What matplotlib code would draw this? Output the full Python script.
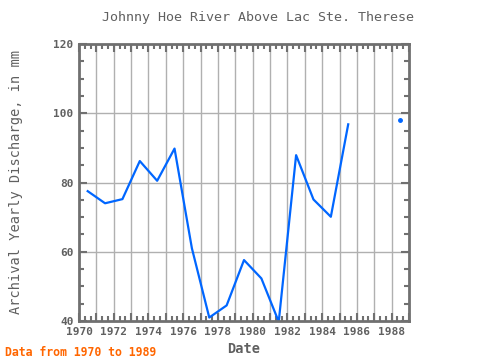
import numpy as np
import matplotlib
matplotlib.use("Agg")
import matplotlib.pyplot as plt
from matplotlib.ticker import MultipleLocator

years = [1970, 1971, 1972, 1973, 1974, 1975, 1976, 1977, 1978, 1979,
         1980, 1981, 1982, 1983, 1984, 1985, 1986, 1987, 1988]
discharge = [77.5, 74.0, 75.2, 86.2, 80.5, 89.8, 61.0, 41.0, 44.5, 57.6,
             52.3, 39.8, 87.9, 75.1, 70.1, 96.8, np.nan, np.nan, 98.0]
title = "Johnny Hoe River Above Lac Ste. Therese"
xlabel = "Date"
ylabel = "Archival Yearly Discharge, in mm"
note = "Data from 1970 to 1989"

x = np.array(years, dtype=float) + 0.5
y = np.array(discharge, dtype=float)

plt.rcParams['font.family'] = ['DejaVu Sans Mono']
fig = plt.figure(figsize=(4.8, 3.6), dpi=100)
ax = fig.add_axes([79/480, 1-321/360, (409-79)/480, (321-44)/360])

line_color = '#0066ff'
ax.plot(x, y, color=line_color, lw=1.6, clip_on=True)
iso = []
for i in range(len(y)):
    if np.isnan(y[i]):
        continue
    left = i == 0 or np.isnan(y[i-1])
    right = i == len(y)-1 or np.isnan(y[i+1])
    if left and right:
        iso.append(i)
if iso:
    ax.plot(x[iso], y[iso], 'o', color=line_color, ms=2.5)

ax.set_xlim(1970, 1989)
ax.set_ylim(40, 120)
ax.xaxis.set_minor_locator(MultipleLocator(1/3))
ax.yaxis.set_major_locator(MultipleLocator(20))
ax.yaxis.set_minor_locator(MultipleLocator(5))

gray = '#707070'
for yr in range(1971, 1989):
    ax.axvline(yr, color='#b0b0b0', lw=1, zorder=0)
for v in (60, 80, 100):
    ax.axhline(v, color='#b0b0b0', lw=1, zorder=0)

for s in ax.spines.values():
    s.set_color(gray)
    s.set_linewidth(2)
ax.tick_params(which='both', direction='in', top=True, right=True, colors=gray,
               labelcolor='#606060', labelsize=8)
ax.tick_params(which='major', length=6, width=1.5, pad=4)
ax.tick_params(which='minor', length=3.5, width=1.5)
ax.set_xticks(range(1970, 1990), minor=False)
ax.set_xticklabels([str(v) if v % 2 == 0 else '' for v in range(1970, 1990)])
for lab in ax.get_xticklabels() + ax.get_yticklabels():
    lab.set_fontweight('bold')

fig.text(258/480, 1-18/360, title, color='#606060', fontsize=9.6,
         ha='center', va='center')
ax.set_xlabel(xlabel, color='#606060', fontsize=9.8, fontweight='bold', labelpad=4)
ax.set_ylabel(ylabel, color='#606060', fontsize=9.8, labelpad=22)
fig.text(5/480, 1-352/360, note, color='#ff6600', fontsize=8.3, fontweight='bold',
         va='center', ha='left')

fig.savefig('out.png', dpi=100)
